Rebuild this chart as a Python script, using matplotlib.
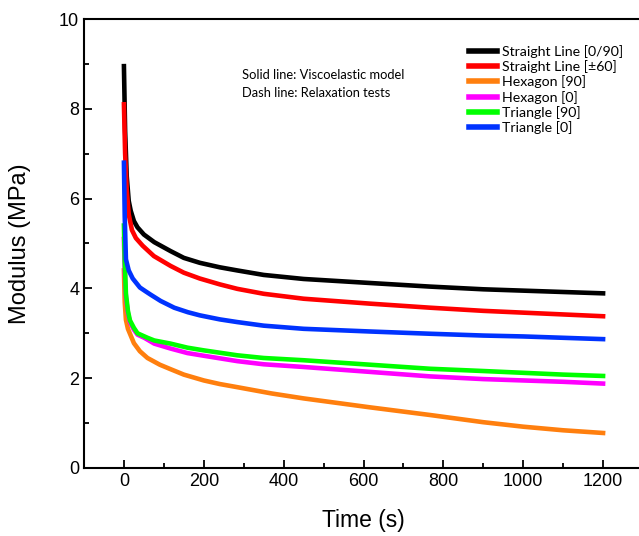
import numpy as np
import matplotlib
matplotlib.use('Agg')
import matplotlib.pyplot as plt
from matplotlib.ticker import MultipleLocator

# time (s) and modulus (MPa), per sample
t_black = [0, 3, 7, 12, 17, 25, 34, 50, 76, 117, 150, 190, 240, 284, 350, 450, 617, 767, 900, 1000, 1100, 1200]
e_black = [8.95, 7.5, 6.5, 5.95, 5.73, 5.5, 5.36, 5.2, 5.03, 4.83, 4.68, 4.57, 4.47, 4.4, 4.3, 4.21, 4.12, 4.04, 3.98, 3.95, 3.92, 3.89]

t_red = [0, 3, 7, 12, 20, 30, 47, 75, 117, 150, 190, 240, 284, 350, 450, 617, 767, 900, 1000, 1100, 1200]
e_red = [8.1, 7.0, 6.2, 5.65, 5.3, 5.12, 4.95, 4.72, 4.5, 4.35, 4.22, 4.09, 3.99, 3.88, 3.77, 3.66, 3.57, 3.5, 3.46, 3.42, 3.38]

t_orange = [0, 2, 5, 10, 25, 40, 59, 90, 117, 150, 200, 240, 284, 370, 450, 617, 767, 900, 1000, 1100, 1200]
e_orange = [4.4, 3.7, 3.3, 3.1, 2.78, 2.6, 2.45, 2.3, 2.2, 2.08, 1.95, 1.87, 1.8, 1.66, 1.55, 1.35, 1.18, 1.02, 0.92, 0.84, 0.78]

t_magenta = [0, 2, 5, 10, 15, 25, 34, 51, 76, 117, 159, 200, 284, 350, 450, 617, 767, 900, 1000, 1100, 1200]
e_magenta = [5.1, 4.4, 3.8, 3.45, 3.25, 3.08, 2.97, 2.9, 2.77, 2.66, 2.56, 2.5, 2.38, 2.31, 2.25, 2.14, 2.04, 1.98, 1.95, 1.92, 1.88]

t_green = [0, 2, 5, 10, 15, 25, 34, 59, 76, 117, 159, 200, 284, 350, 450, 617, 767, 900, 1000, 1100, 1200]
e_green = [5.4, 4.6, 3.88, 3.5, 3.29, 3.12, 3.0, 2.9, 2.84, 2.77, 2.68, 2.62, 2.51, 2.45, 2.4, 2.3, 2.21, 2.16, 2.12, 2.08, 2.05]

t_blue = [0, 2, 5, 12, 22, 40, 55, 67, 92, 126, 160, 190, 240, 284, 350, 450, 617, 767, 900, 1000, 1100, 1200]
e_blue = [6.8, 5.6, 4.65, 4.4, 4.22, 4.02, 3.93, 3.86, 3.72, 3.57, 3.47, 3.4, 3.31, 3.25, 3.17, 3.1, 3.04, 2.99, 2.95, 2.93, 2.9, 2.87]

labels = ['Straight Line [0/90]', 'Straight Line [\u00b160]', 'Hexagon [90]',
          'Hexagon [0]', 'Triangle [90]', 'Triangle [0]']
colors = ['#000000', '#ff0000', '#ff7f0e', '#ff00ff', '#00ff00', '#0033ff']
series = [(t_black, e_black), (t_red, e_red), (t_orange, e_orange),
          (t_magenta, e_magenta), (t_green, e_green), (t_blue, e_blue)]

plt.rcParams['font.family'] = ['Liberation Sans', 'DejaVu Sans']

fig = plt.figure(figsize=(6.39, 5.36), dpi=100)
ax = fig.add_axes([84/639, 68/536, (643-84)/639, (468-19)/536])

for (t, e), c, lab in zip(series, colors, labels):
    ax.plot(t, e, color=c, lw=3.3, label=lab, solid_joinstyle='round')

ax.set_xlim(-100, 1300)
ax.set_ylim(0, 10)
ax.xaxis.set_major_locator(MultipleLocator(200))
ax.xaxis.set_minor_locator(MultipleLocator(100))
ax.yaxis.set_major_locator(MultipleLocator(2))
ax.yaxis.set_minor_locator(MultipleLocator(1))
ax.tick_params(which='both', direction='in', width=1.3, labelsize=13)
ax.tick_params(which='major', length=6)
ax.tick_params(which='minor', length=3.5)
for s in ax.spines.values():
    s.set_linewidth(1.5)

ax.set_xlabel('Time (s)', fontsize=16.5, labelpad=14)
ax.set_ylabel('Modulus (MPa)', fontsize=17, labelpad=20)

ax.text(242/639, 1 - 75/536, 'Solid line: Viscoelastic model', transform=fig.transFigure,
        fontsize=9.3, family='Lato', va='center')
ax.text(242/639, 1 - 93/536, 'Dash line: Relaxation tests', transform=fig.transFigure,
        fontsize=9.3, family='Lato', va='center')

leg = ax.legend(loc='upper left', bbox_to_anchor=(469/639, 1 - 45/536), bbox_transform=fig.transFigure,
                frameon=False, prop={'family': 'Lato', 'size': 10.2}, handlelength=2.0,
                handletextpad=0.3, labelspacing=0.16, borderpad=0, borderaxespad=0)
for h in leg.get_lines():
    h.set_linewidth(4)

fig.savefig('out.png', dpi=100)
